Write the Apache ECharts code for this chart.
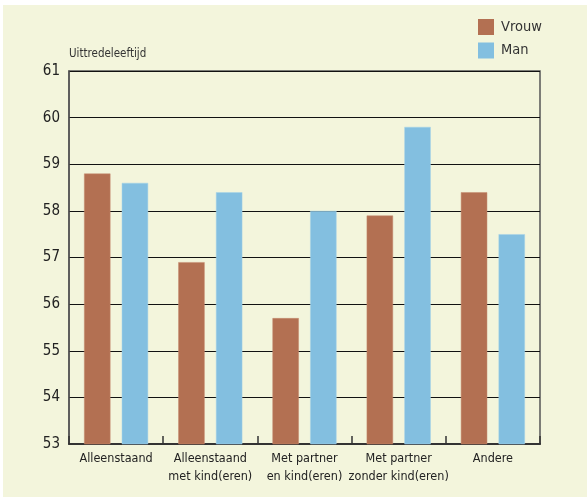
<!DOCTYPE html>
<html>
<head>
<meta charset="utf-8">
<script src="https://cdn.jsdelivr.net/npm/echarts@6/dist/echarts.min.js"></script>
<style>
  html, body { margin: 0; padding: 0; background: #ffffff; }
  #chart { position: absolute; left: 3px; top: 5px; width: 584px; height: 492px; background: #f3f5dc; }
</style>
</head>
<body>
<div id="chart"></div>
<script>
// Gemiddelde uittredeleeftijd per huishoudtype
const categories = ['Alleenstaand', 'Alleenstaand\nmet kind(eren)', 'Met partner\nen kind(eren)', 'Met partner\nzonder kind(eren)', 'Andere'];
const vrouw = [58.8, 56.9, 55.7, 57.9, 58.4];
const man = [58.6, 58.4, 58.0, 59.8, 57.5];
const seriesNames = ['Vrouw', 'Man'];
const yAxisName = 'Uittredeleeftijd';

const FONT = '"DejaVu Sans Condensed", "Liberation Sans Narrow", sans-serif';

const chart = echarts.init(document.getElementById('chart'));
chart.setOption({
  backgroundColor: '#f3f5dc',
  animation: false,
  textStyle: { fontFamily: FONT },
  legend: {
    orient: 'vertical',
    left: 475,
    top: 14,
    padding: 0,
    itemWidth: 16,
    itemHeight: 16,
    itemGap: 7.5,
    icon: 'rect',
    itemStyle: { borderWidth: 0 },
    textStyle: { fontFamily: FONT, fontSize: 14.5, color: '#333', padding: [0, 0, 0, 2] },
    data: seriesNames
  },
  grid: {
    left: 66, right: 47, top: 66, bottom: 53,
    show: true, borderColor: '#555', borderWidth: 1.5,
    backgroundColor: 'transparent'
  },
  xAxis: {
    type: 'category',
    data: categories,
    axisLine: { show: true, lineStyle: { color: '#333', width: 2 } },
    axisTick: { show: true, inside: true, length: 8, lineStyle: { color: '#333', width: 1.5 } },
    axisLabel: { fontFamily: FONT, fontSize: 12.5, color: '#222', lineHeight: 17.5, margin: 6, interval: 0 }
  },
  yAxis: {
    type: 'value',
    min: 53, max: 61, interval: 1,
    name: yAxisName,
    nameLocation: 'end',
    nameGap: 11,
    nameTextStyle: { fontFamily: FONT, fontSize: 11.5, color: '#333', align: 'left' },
    axisLine: { show: true, lineStyle: { color: '#555', width: 1.5 } },
    axisTick: { show: false },
    axisLabel: { fontFamily: FONT, fontSize: 15, color: '#222', margin: 9 },
    splitLine: { lineStyle: { color: '#111', width: 1 } }
  },
  series: [
    { name: seriesNames[0], type: 'bar', data: vrouw, barGap: '43%', barCategoryGap: '32%',
      itemStyle: { color: '#b37052', borderColor: '#c48a6e', borderWidth: 0.5 } },
    { name: seriesNames[1], type: 'bar', data: man,
      itemStyle: { color: '#83bfe0', borderColor: '#a5d3e9', borderWidth: 0.5 } }
  ]
});
</script>
</body>
</html>
